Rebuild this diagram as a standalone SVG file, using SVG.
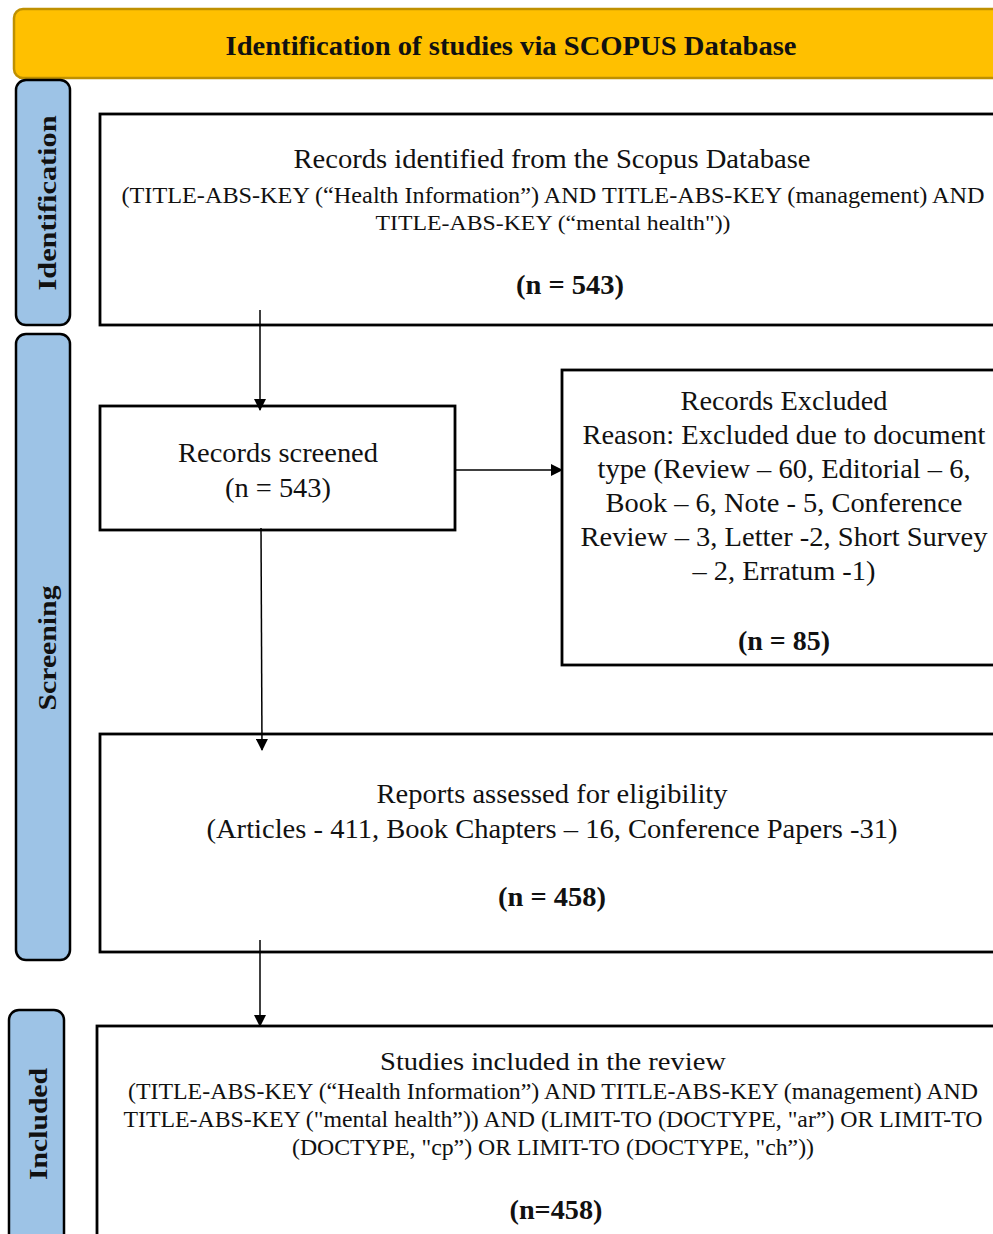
<svg xmlns="http://www.w3.org/2000/svg" width="993" height="1234" viewBox="0 0 993 1234">
<defs>
<style>
.box{fill:#fff;stroke:#000;stroke-width:2.8}
.side{fill:#9DC3E6;stroke:#000;stroke-width:2.5}
.t{font-family:"Liberation Serif","Times New Roman",serif;fill:#111;text-anchor:middle}
.b{font-weight:bold}
.con{stroke:#000;stroke-width:1.5;fill:none}
</style>
<marker id="ah" markerWidth="12" markerHeight="12" refX="11" refY="6" orient="auto" markerUnits="userSpaceOnUse">
<path d="M0,0 L12,6 L0,12 z" fill="#000"/>
</marker>
</defs>
<rect width="993" height="1234" fill="#fff"/>
<g id="header">
<rect x="14" y="9" width="1000" height="69" rx="9" fill="#FFC000" stroke="#BF9000" stroke-width="2.5"/>
<text class="t b" x="511" y="55" font-size="27" textLength="571" lengthAdjust="spacingAndGlyphs">Identification of studies via SCOPUS Database</text>
</g>
<g id="side-identification">
<rect class="side" x="16" y="80" width="54" height="245" rx="10"/>
<text class="t b" transform="translate(56,203) rotate(-90)" font-size="26" textLength="175" lengthAdjust="spacingAndGlyphs">Identification</text>
</g>
<g id="side-screening">
<rect class="side" x="16" y="334" width="54" height="626" rx="10"/>
<text class="t b" transform="translate(56,648) rotate(-90)" font-size="26" textLength="125" lengthAdjust="spacingAndGlyphs">Screening</text>
</g>
<g id="side-included">
<rect class="side" x="9" y="1010" width="55" height="240" rx="10"/>
<text class="t b" transform="translate(47,1124) rotate(-90)" font-size="26" textLength="112" lengthAdjust="spacingAndGlyphs">Included</text>
</g>
<g id="records-identified">
<rect class="box" x="100" y="114" width="910" height="211"/>
<text class="t" x="552" y="168" font-size="27" textLength="517" lengthAdjust="spacingAndGlyphs">Records identified from the Scopus Database</text>
<text class="t" x="553" y="203" font-size="24" textLength="863" lengthAdjust="spacingAndGlyphs">(TITLE-ABS-KEY (“Health Information”) AND TITLE-ABS-KEY (management) AND</text>
<text class="t" x="553" y="230" font-size="22" textLength="355" lengthAdjust="spacingAndGlyphs">TITLE-ABS-KEY (“mental health"))</text>
<text class="t b" x="570" y="294" font-size="27" textLength="108" lengthAdjust="spacingAndGlyphs">(n = 543)</text>
</g>
<g id="records-screened">
<rect class="box" x="100" y="406" width="355" height="124"/>
<text class="t" x="278" y="462" font-size="27" textLength="200" lengthAdjust="spacingAndGlyphs">Records screened</text>
<text class="t" x="278" y="497" font-size="27" textLength="106" lengthAdjust="spacingAndGlyphs">(n = 543)</text>
</g>
<g id="records-excluded">
<rect class="box" x="562" y="370" width="450" height="295"/>
<text class="t" x="784" y="410" font-size="27" textLength="207" lengthAdjust="spacingAndGlyphs">Records Excluded</text>
<text class="t" x="784" y="444" font-size="27" textLength="403" lengthAdjust="spacingAndGlyphs">Reason: Excluded due to document</text>
<text class="t" x="784" y="478" font-size="27" textLength="373" lengthAdjust="spacingAndGlyphs">type (Review – 60, Editorial – 6,</text>
<text class="t" x="784" y="512" font-size="27" textLength="357" lengthAdjust="spacingAndGlyphs">Book – 6, Note - 5, Conference</text>
<text class="t" x="784" y="546" font-size="27" textLength="407" lengthAdjust="spacingAndGlyphs">Review – 3, Letter -2, Short Survey</text>
<text class="t" x="784" y="580" font-size="27" textLength="183" lengthAdjust="spacingAndGlyphs">– 2, Erratum -1)</text>
<text class="t b" x="784" y="650" font-size="27" textLength="92" lengthAdjust="spacingAndGlyphs">(n = 85)</text>
</g>
<g id="reports-assessed">
<rect class="box" x="100" y="734" width="910" height="218"/>
<text class="t" x="552" y="803" font-size="27" textLength="351" lengthAdjust="spacingAndGlyphs">Reports assessed for eligibility</text>
<text class="t" x="552" y="838" font-size="27" textLength="691" lengthAdjust="spacingAndGlyphs">(Articles - 411, Book Chapters – 16, Conference Papers -31)</text>
<text class="t b" x="552" y="906" font-size="27" textLength="108" lengthAdjust="spacingAndGlyphs">(n = 458)</text>
</g>
<g id="studies-included">
<rect class="box" x="97" y="1026" width="913" height="230"/>
<text class="t" x="553" y="1070" font-size="26" textLength="346" lengthAdjust="spacingAndGlyphs">Studies included in the review</text>
<text class="t" x="553" y="1099" font-size="23" textLength="850" lengthAdjust="spacingAndGlyphs">(TITLE-ABS-KEY (“Health Information”) AND TITLE-ABS-KEY (management) AND</text>
<text class="t" x="553" y="1127" font-size="23" textLength="859" lengthAdjust="spacingAndGlyphs">TITLE-ABS-KEY ("mental health”)) AND (LIMIT-TO (DOCTYPE, "ar”) OR LIMIT-TO</text>
<text class="t" x="553" y="1155" font-size="23" textLength="522" lengthAdjust="spacingAndGlyphs">(DOCTYPE, "cp”) OR LIMIT-TO (DOCTYPE, "ch”))</text>
<text class="t b" x="556" y="1219" font-size="27" textLength="93" lengthAdjust="spacingAndGlyphs">(n=458)</text>
</g>
<g id="connectors">
<line class="con" x1="260" y1="310" x2="260" y2="410" marker-end="url(#ah)"/>
<line class="con" x1="456" y1="470" x2="562" y2="470" marker-end="url(#ah)"/>
<line class="con" x1="261" y1="528" x2="262" y2="750" marker-end="url(#ah)"/>
<line class="con" x1="260" y1="940" x2="260" y2="1026" marker-end="url(#ah)"/>
</g>
</svg>
